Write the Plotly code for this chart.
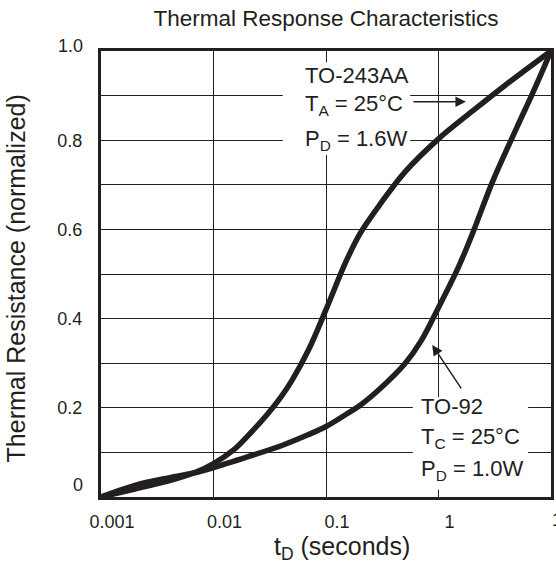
import plotly.graph_objects as go

# ---- data ----
t_to243 = [0.001, 0.002, 0.004, 0.007, 0.01, 0.015, 0.02, 0.03, 0.04, 0.05, 0.07,
           0.1, 0.15, 0.2, 0.3, 0.5, 1, 2, 4, 10]
r_to243 = [0.0, 0.018, 0.036, 0.056, 0.075, 0.105, 0.136, 0.185, 0.225, 0.262, 0.33,
           0.42, 0.527, 0.59, 0.655, 0.728, 0.803, 0.865, 0.925, 1.0]

t_to92 = [0.001, 0.002, 0.004, 0.007, 0.01, 0.02, 0.04, 0.07, 0.1, 0.15, 0.2,
          0.3, 0.5, 0.7, 1, 1.5, 2, 3, 5, 7, 10]
r_to92 = [0.0, 0.026, 0.043, 0.055, 0.066, 0.09, 0.115, 0.14, 0.158, 0.185, 0.205,
          0.242, 0.298, 0.35, 0.425, 0.515, 0.59, 0.705, 0.83, 0.91, 1.0]

x_tickvals = [0.001, 0.01, 0.1, 1, 10]
x_ticktext = ["0.001", "0.01", "0.1", "1", ""]
x_last_label = "10"
y_gridvals = [0, 0.1, 0.2, 0.3, 0.4, 0.5, 0.6, 0.7, 0.8, 0.9, 1.0]
y_ticktext = ["", "", "0.2", "", "0.4", "", "0.6", "", "0.8", "", ""]

title_text = "Thermal Response Characteristics"
x_title = "t<sub>D</sub> (seconds)"
y_title = "Thermal Resistance (normalized)"
label_to243 = ["TO-243AA", "T<sub>A</sub> = 25°C", "P<sub>D</sub> = 1.6W"]
label_to92 = ["TO-92", "T<sub>C</sub> = 25°C", "P<sub>D</sub> = 1.0W"]

INK = "#231f20"
FONT = "Liberation Sans, Arial, Helvetica, sans-serif"

fig = go.Figure()
for t, r, name in [(t_to243, r_to243, "TO-243AA"), (t_to92, r_to92, "TO-92")]:
    fig.add_trace(go.Scatter(x=t, y=r, mode="lines", name=name,
                             line=dict(color=INK, width=5.5, shape="spline", smoothing=1.0),
                             showlegend=False, hoverinfo="skip"))

fig.update_layout(
    width=556, height=561, autosize=False,
    margin=dict(l=101, r=5, t=51, b=64),
    paper_bgcolor="white", plot_bgcolor="white",
    font=dict(family=FONT, color=INK, size=18),
    title=dict(text=title_text, x=0.5, xref="paper", xanchor="center",
               y=1 - 18 / 561, yref="container", yanchor="middle",
               font=dict(size=22.5, family=FONT, color=INK)),
)

fig.update_xaxes(type="log", range=[-3, 1], tickvals=x_tickvals, ticktext=x_ticktext,
                 showgrid=True, gridcolor=INK, gridwidth=1,
                 showline=True, mirror=True, linecolor=INK, linewidth=3,
                 ticks="", ticklabelstandoff=6, ticklabelshift=11, automargin=False,
                 tickfont=dict(size=18), zeroline=False)
fig.update_yaxes(range=[0, 1], tickvals=y_gridvals, ticktext=y_ticktext,
                 showgrid=True, gridcolor=INK, gridwidth=1,
                 showline=True, mirror=True, linecolor=INK, linewidth=3,
                 ticks="", ticklabelstandoff=12, automargin=False,
                 tickfont=dict(size=18), zeroline=False)

# the last x tick label, which runs off the right edge in the reference
fig.add_annotation(text=x_last_label, xref="paper", yref="paper", x=1, y=0, xshift=11, yshift=-23,
                   xanchor="center", yanchor="middle", showarrow=False, font=dict(size=18))

# white boxes behind the label blocks (they interrupt the grid)
fig.add_shape(type="rect", xref="paper", yref="paper", x0=0.404, x1=0.687, y0=0.767, y1=0.975,
              fillcolor="white", line=dict(width=0), layer="above")
fig.add_shape(type="rect", xref="paper", yref="paper", x0=0.693, x1=0.949, y0=0.016, y1=0.224,
              fillcolor="white", line=dict(width=0), layer="above")

for txt, yy in zip(label_to243, [0.946, 0.879, 0.800]):
    fig.add_annotation(text=txt, xref="paper", yref="paper", x=0.449, y=yy,
                       xanchor="left", yanchor="middle", showarrow=False,
                       font=dict(size=22, family=FONT, color=INK))
for txt, yy in zip(label_to92, [0.204, 0.132, 0.061]):
    fig.add_annotation(text=txt, xref="paper", yref="paper", x=0.707, y=yy,
                       xanchor="left", yanchor="middle", showarrow=False,
                       font=dict(size=22, family=FONT, color=INK))

# arrows
fig.add_annotation(text="", xref="paper", yref="paper", x=0.811, y=0.886, ax=-54, ay=0,
                   showarrow=True, arrowhead=2, arrowsize=1.4, arrowwidth=1.5, arrowcolor=INK)
fig.add_annotation(text="", xref="paper", yref="paper", x=0.736, y=0.341, ax=30, ay=45,
                   showarrow=True, arrowhead=2, arrowsize=1.4, arrowwidth=1.5, arrowcolor=INK)

# y tick labels at the ends (offset in the reference)
fig.add_annotation(text="1.0", xref="paper", yref="paper", x=0, y=1, xshift=-16, yshift=5,
                   xanchor="right", yanchor="middle", showarrow=False, font=dict(size=18))
fig.add_annotation(text="0", xref="paper", yref="paper", x=0, y=0, xshift=-16, yshift=12,
                   xanchor="right", yanchor="middle", showarrow=False, font=dict(size=18))

# axis titles
fig.add_annotation(text=x_title, xref="paper", yref="paper", x=0.536, y=-0.114,
                   xanchor="center", yanchor="middle", showarrow=False,
                   font=dict(size=25, family=FONT, color=INK))
fig.add_annotation(text=y_title, xref="paper", yref="paper", x=-0.188, y=0.491,
                   xanchor="center", yanchor="middle", textangle=-90, showarrow=False,
                   font=dict(size=25, family=FONT, color=INK))

fig.write_html("out.html", config={"displayModeBar": False},
               post_script="document.body.style.margin='0';")
